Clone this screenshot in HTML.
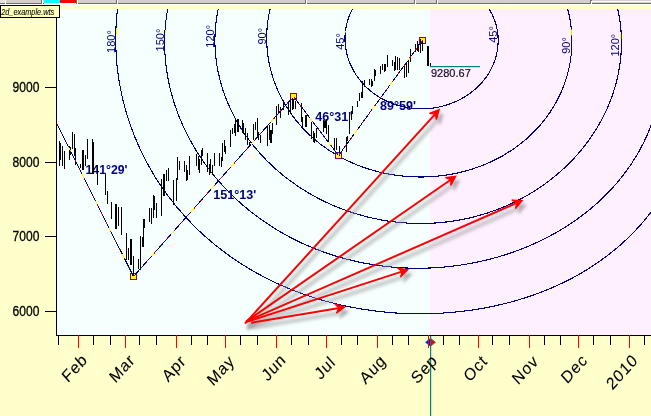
<!DOCTYPE html><html><head><meta charset="utf-8"><style>html,body{margin:0;padding:0;background:#FFFFCC;width:651px;height:416px;overflow:hidden}svg{display:block}</style></head><body><svg width="651" height="416" viewBox="0 0 651 416">
<defs><clipPath id="ch"><rect x="57" y="9" width="594" height="326"/></clipPath></defs>
<rect x="0" y="0" width="651" height="416" fill="#FFFFCC"/>
<rect x="57" y="9" width="373" height="326" fill="#F5FFFD"/>
<rect x="430" y="9" width="221" height="326" fill="#FFF0FF"/>
<rect x="0" y="0" width="651" height="3" fill="#D4D0C8"/>
<rect x="0" y="3" width="651" height="1" fill="#6E6E6E"/>
<rect x="0" y="4" width="651" height="1" fill="#FFFFFF"/>
<rect x="6" y="0" width="35" height="3" fill="#D4D0C8"/>
<rect x="41" y="0" width="1" height="4" fill="#6E6E6E"/>
<rect x="42" y="0" width="1" height="4" fill="#FFFFFF"/>
<rect x="44" y="0" width="16" height="3" fill="#00FFFF"/>
<rect x="60" y="0" width="1" height="4" fill="#6E6E6E"/>
<rect x="61" y="0" width="1" height="4" fill="#FFFFFF"/>
<rect x="60" y="0" width="16" height="3" fill="#FF0000"/>
<rect x="76" y="0" width="1" height="4" fill="#6E6E6E"/>
<rect x="77" y="0" width="1" height="4" fill="#FFFFFF"/>
<rect x="78" y="0" width="38" height="3" fill="#D4D0C8"/>
<rect x="116" y="0" width="1" height="4" fill="#6E6E6E"/>
<rect x="117" y="0" width="1" height="4" fill="#FFFFFF"/>
<rect x="118" y="0" width="187" height="3" fill="#D4D0C8"/>
<rect x="305" y="0" width="1" height="4" fill="#6E6E6E"/>
<rect x="306" y="0" width="1" height="4" fill="#FFFFFF"/>
<rect x="307" y="0" width="107" height="3" fill="#D4D0C8"/>
<rect x="414" y="0" width="1" height="4" fill="#6E6E6E"/>
<rect x="415" y="0" width="1" height="4" fill="#FFFFFF"/>
<rect x="416" y="0" width="20" height="3" fill="#D4D0C8"/>
<rect x="436" y="0" width="1" height="4" fill="#6E6E6E"/>
<rect x="437" y="0" width="1" height="4" fill="#FFFFFF"/>
<rect x="438" y="0" width="152" height="3" fill="#D4D0C8"/>
<rect x="590" y="0" width="1" height="4" fill="#6E6E6E"/>
<rect x="591" y="0" width="1" height="4" fill="#FFFFFF"/>
<rect x="0" y="0" width="5" height="3" fill="#E4E2DC"/>
<rect x="5" y="0" width="1" height="4" fill="#FFFFFF"/>
<rect x="44" y="3" width="32" height="1" fill="#FFFFFF"/>
<rect x="592" y="1" width="59" height="1" fill="#FFFFFF"/>
<rect x="591" y="0" width="1" height="1" fill="#6E6E6E"/>
<g clip-path="url(#ch)">
<path d="M345.0,41.0 345.0,40.0 345.0,39.0 345.0,38.0 345.0,37.0 345.0,36.0 345.1,35.0 345.2,34.0 345.2,33.0 345.3,32.0 345.4,31.1 345.6,30.1 345.7,29.1 345.9,28.1 346.0,27.1 346.2,26.1 346.4,25.2 346.7,24.2 346.9,23.2 347.2,22.2 347.4,21.3 347.7,20.3 348.0,19.4 348.3,18.4 348.7,17.5 349.0,16.6 349.4,15.6 349.7,14.7 350.1,13.8 350.5,12.9 351.0,12.0 351.4,11.1 351.9,10.2 352.3,9.3 352.8,8.5 353.3,7.6 353.8,6.8 354.3,5.9 354.9,5.1 355.4,4.3 356.0,3.4 356.5,2.6 357.1,1.8 357.7,1.1 358.3,0.3 358.9,-0.5 359.6,-1.2 360.2,-2.0 360.9,-2.7 361.5,-3.4 362.2,-4.1 362.9,-4.8 363.6,-5.5 364.3,-6.2 365.0,-6.8 365.7,-7.5 366.4,-8.1 367.2,-8.8 367.9,-9.4 368.7,-10.0 369.4,-10.6 370.2,-11.1 371.0,-11.7 371.8,-12.2 372.6,-12.8 373.4,-13.3 374.2,-13.8 375.0,-14.3 375.8,-14.8 376.6,-15.3 377.4,-15.8 378.3,-16.2 379.1,-16.7 380.0,-17.1 380.8,-17.5 381.6,-17.9 382.5,-18.3 383.3,-18.7 384.2,-19.0 385.1,-19.4 385.9,-19.7 386.8,-20.1 387.7,-20.4 388.5,-20.7 389.4,-21.0 390.3,-21.3 391.2,-21.6 392.0,-21.8 392.9,-22.1 393.8,-22.3 394.7,-22.6 395.5,-22.8 396.4,-23.0 397.3,-23.2 398.2,-23.4 399.1,-23.6 400.0,-23.8 400.8,-23.9 401.7,-24.1 402.6,-24.2 403.5,-24.4 404.4,-24.5 405.3,-24.6 406.1,-24.7 407.0,-24.8 407.9,-24.9 408.8,-25.0 409.6,-25.1 410.5,-25.1 411.4,-25.2 412.3,-25.2 413.2,-25.3 414.0,-25.3 414.9,-25.3 415.8,-25.4 416.7,-25.4 417.5,-25.4 418.4,-25.4 419.3,-25.4 420.1,-25.3 421.0,-25.3 421.9,-25.3 422.7,-25.2 423.6,-25.2 424.5,-25.1 425.3,-25.1 426.2,-25.0 427.1,-24.9 427.9,-24.9 428.8,-24.8 429.6,-24.7 430.5,-24.6 431.4,-24.5 432.2,-24.4 433.1,-24.2 434.0,-24.1 434.8,-24.0 435.7,-23.8 436.5,-23.7 437.4,-23.5 438.2,-23.3 439.1,-23.2 440.0,-23.0 440.8,-22.8 441.7,-22.6 442.5,-22.4 443.4,-22.2 444.2,-22.0 445.1,-21.7 445.9,-21.5 446.8,-21.3 447.6,-21.0 448.5,-20.8 449.3,-20.5 450.2,-20.2 451.0,-19.9 451.9,-19.6 452.7,-19.3 453.6,-19.0 454.4,-18.7 455.3,-18.3 456.1,-18.0 456.9,-17.7 457.8,-17.3 458.6,-16.9 459.4,-16.5 460.3,-16.1 461.1,-15.7 461.9,-15.3 462.7,-14.9 463.6,-14.5 464.4,-14.0 465.2,-13.6 466.0,-13.1 466.8,-12.6 467.6,-12.1 468.4,-11.6 469.2,-11.1 470.0,-10.6 470.7,-10.1 471.5,-9.5 472.3,-9.0 473.0,-8.4 473.8,-7.8 474.6,-7.2 475.3,-6.6 476.0,-6.0 476.8,-5.4 477.5,-4.7 478.2,-4.1 478.9,-3.4 479.6,-2.8 480.3,-2.1 481.0,-1.4 481.6,-0.7 482.3,0.0 482.9,0.8 483.6,1.5 484.2,2.3 484.8,3.0 485.4,3.8 486.0,4.6 486.6,5.4 487.2,6.2 487.8,7.0 488.3,7.8 488.8,8.6 489.4,9.5 489.9,10.3 490.4,11.2 490.9,12.1 491.3,12.9 491.8,13.8 492.2,14.7 492.6,15.6 493.1,16.5 493.5,17.5 493.8,18.4 494.2,19.3 494.6,20.3 494.9,21.2 495.2,22.2 495.5,23.1 495.8,24.1 496.1,25.0 496.3,26.0 496.6,27.0 496.8,28.0 497.0,29.0 497.2,30.0 497.4,30.9 497.5,31.9 497.6,32.9 497.8,33.9 497.9,34.9 498.0,36.0 498.0,37.0 498.1,38.0 498.1,39.0 498.1,40.0 498.1,41.0 498.1,42.0 498.1,43.0 498.0,44.0 498.0,45.0 497.9,46.0 497.8,47.0 497.7,48.0 497.5,49.0 497.4,50.0 497.2,51.0 497.0,52.0 496.8,53.0 496.6,54.0 496.4,55.0 496.1,55.9 495.9,56.9 495.6,57.9 495.3,58.8 495.0,59.8 494.7,60.7 494.3,61.7 494.0,62.6 493.6,63.5 493.2,64.5 492.8,65.4 492.4,66.3 492.0,67.2 491.6,68.1 491.1,69.0 490.7,69.9 490.2,70.7 489.7,71.6 489.2,72.4 488.7,73.3 488.2,74.1 487.6,74.9 487.1,75.8 486.5,76.6 486.0,77.4 485.4,78.2 484.8,78.9 484.2,79.7 483.6,80.5 483.0,81.2 482.3,82.0 481.7,82.7 481.0,83.4 480.4,84.1 479.7,84.8 479.0,85.5 478.4,86.2 477.7,86.9 477.0,87.5 476.3,88.2 475.6,88.8 474.8,89.5 474.1,90.1 473.4,90.7 472.6,91.3 471.9,91.9 471.1,92.5 470.4,93.0 469.6,93.6 468.8,94.1 468.1,94.7 467.3,95.2 466.5,95.7 465.7,96.2 464.9,96.7 464.1,97.2 463.3,97.7 462.5,98.1 461.7,98.6 460.9,99.0 460.1,99.5 459.2,99.9 458.4,100.3 457.6,100.7 456.8,101.1 455.9,101.5 455.1,101.8 454.2,102.2 453.4,102.6 452.5,102.9 451.7,103.2 450.8,103.6 450.0,103.9 449.1,104.2 448.3,104.5 447.4,104.8 446.5,105.0 445.7,105.3 444.8,105.6 443.9,105.8 443.1,106.0 442.2,106.3 441.3,106.5 440.5,106.7 439.6,106.9 438.7,107.1 437.8,107.2 436.9,107.4 436.1,107.6 435.2,107.7 434.3,107.9 433.4,108.0 432.5,108.1 431.6,108.2 430.8,108.3 429.9,108.4 429.0,108.5 428.1,108.6 427.2,108.7 426.3,108.7 425.4,108.8 424.6,108.8 423.7,108.8 422.8,108.8 421.9,108.9 421.0,108.9 420.1,108.8 419.2,108.8 418.3,108.8 417.4,108.8 416.6,108.7 415.7,108.7 414.8,108.6 413.9,108.5 413.0,108.4 412.1,108.3 411.3,108.2 410.4,108.1 409.5,108.0 408.6,107.9 407.7,107.7 406.8,107.6 406.0,107.4 405.1,107.2 404.2,107.1 403.3,106.9 402.5,106.7 401.6,106.5 400.7,106.2 399.9,106.0 399.0,105.8 398.1,105.5 397.3,105.3 396.4,105.0 395.6,104.7 394.7,104.4 393.9,104.1 393.0,103.8 392.2,103.5 391.3,103.2 390.5,102.8 389.7,102.5 388.8,102.1 388.0,101.8 387.2,101.4 386.4,101.0 385.5,100.6 384.7,100.2 383.9,99.8 383.1,99.4 382.3,98.9 381.5,98.5 380.7,98.0 379.9,97.6 379.1,97.1 378.3,96.6 377.6,96.1 376.8,95.6 376.0,95.1 375.3,94.5 374.5,94.0 373.8,93.5 373.0,92.9 372.3,92.3 371.6,91.8 370.8,91.2 370.1,90.6 369.4,90.0 368.7,89.4 368.0,88.7 367.3,88.1 366.6,87.4 365.9,86.8 365.3,86.1 364.6,85.5 364.0,84.8 363.3,84.1 362.7,83.4 362.0,82.7 361.4,82.0 360.8,81.2 360.2,80.5 359.6,79.7 359.0,79.0 358.4,78.2 357.9,77.4 357.3,76.7 356.8,75.9 356.2,75.1 355.7,74.3 355.2,73.5 354.7,72.6 354.2,71.8 353.7,71.0 353.2,70.1 352.8,69.3 352.3,68.4 351.9,67.5 351.5,66.7 351.1,65.8 350.6,64.9 350.3,64.0 349.9,63.1 349.5,62.2 349.2,61.3 348.8,60.3 348.5,59.4 348.2,58.5 347.9,57.5 347.6,56.6 347.3,55.7 347.1,54.7 346.8,53.7 346.6,52.8 346.4,51.8 346.2,50.8 346.0,49.9 345.9,48.9 345.7,47.9 345.6,46.9 345.4,46.0 345.3,45.0 345.2,44.0 345.2,43.0 345.1,42.0 345.0,41.0 Z" fill="none" stroke="#000080" stroke-width="1.1" shape-rendering="crispEdges"/>
<path d="M266.7,41.0 266.7,39.0 266.7,37.0 266.7,34.9 266.8,32.9 266.9,30.9 267.0,28.9 267.2,26.9 267.4,24.9 267.6,22.8 267.9,20.8 268.2,18.8 268.5,16.8 268.9,14.9 269.2,12.9 269.7,10.9 270.1,8.9 270.6,7.0 271.1,5.0 271.7,3.1 272.2,1.1 272.8,-0.8 273.5,-2.7 274.1,-4.6 274.8,-6.5 275.6,-8.4 276.3,-10.2 277.1,-12.1 277.9,-13.9 278.8,-15.7 279.6,-17.6 280.5,-19.4 281.4,-21.1 282.4,-22.9 283.4,-24.6 284.4,-26.4 285.4,-28.1 286.5,-29.8 287.5,-31.5 288.7,-33.1 289.8,-34.8 290.9,-36.4 292.1,-38.0 293.3,-39.6 294.5,-41.1 295.8,-42.7 297.0,-44.2 298.3,-45.7 299.6,-47.2 301.0,-48.6 302.3,-50.1 303.7,-51.5 305.1,-52.9 306.5,-54.3 307.9,-55.6 309.3,-56.9 310.8,-58.2 312.3,-59.5 313.7,-60.8 315.2,-62.0 316.8,-63.2 318.3,-64.4 319.9,-65.6 321.4,-66.7 323.0,-67.9 324.6,-68.9 326.2,-70.0 327.8,-71.1 329.4,-72.1 331.1,-73.1 332.7,-74.1 334.4,-75.0 336.0,-76.0 337.7,-76.9 339.4,-77.8 341.1,-78.6 342.8,-79.5 344.5,-80.3 346.2,-81.1 347.9,-81.9 349.6,-82.6 351.4,-83.3 353.1,-84.0 354.9,-84.7 356.6,-85.4 358.4,-86.0 360.1,-86.6 361.9,-87.2 363.7,-87.8 365.4,-88.3 367.2,-88.9 369.0,-89.4 370.8,-89.9 372.6,-90.3 374.3,-90.8 376.1,-91.2 377.9,-91.6 379.7,-92.0 381.5,-92.3 383.3,-92.7 385.1,-93.0 386.9,-93.3 388.7,-93.6 390.5,-93.9 392.3,-94.1 394.1,-94.3 395.9,-94.5 397.7,-94.7 399.5,-94.9 401.3,-95.0 403.1,-95.2 404.9,-95.3 406.7,-95.4 408.5,-95.5 410.3,-95.5 412.0,-95.6 413.8,-95.6 415.6,-95.6 417.4,-95.6 419.2,-95.6 421.0,-95.5 422.8,-95.4 424.6,-95.4 426.4,-95.3 428.1,-95.1 429.9,-95.0 431.7,-94.9 433.5,-94.7 435.2,-94.5 437.0,-94.3 438.8,-94.1 440.6,-93.9 442.3,-93.6 444.1,-93.3 445.8,-93.1 447.6,-92.7 449.4,-92.4 451.1,-92.1 452.9,-91.7 454.6,-91.4 456.4,-91.0 458.1,-90.6 459.8,-90.1 461.6,-89.7 463.3,-89.2 465.0,-88.7 466.8,-88.2 468.5,-87.7 470.2,-87.2 471.9,-86.6 473.6,-86.1 475.3,-85.5 477.0,-84.9 478.7,-84.2 480.4,-83.6 482.1,-82.9 483.8,-82.3 485.5,-81.6 487.1,-80.8 488.8,-80.1 490.5,-79.3 492.1,-78.6 493.8,-77.8 495.4,-76.9 497.0,-76.1 498.7,-75.2 500.3,-74.4 501.9,-73.5 503.5,-72.5 505.1,-71.6 506.7,-70.6 508.2,-69.7 509.8,-68.7 511.3,-67.6 512.9,-66.6 514.4,-65.5 515.9,-64.4 517.5,-63.3 518.9,-62.2 520.4,-61.1 521.9,-59.9 523.4,-58.7 524.8,-57.5 526.2,-56.3 527.7,-55.0 529.1,-53.8 530.4,-52.5 531.8,-51.2 533.2,-49.8 534.5,-48.5 535.8,-47.1 537.1,-45.7 538.4,-44.3 539.7,-42.9 541.0,-41.4 542.2,-40.0 543.4,-38.5 544.6,-37.0 545.8,-35.5 546.9,-33.9 548.0,-32.4 549.2,-30.8 550.2,-29.2 551.3,-27.6 552.4,-25.9 553.4,-24.3 554.4,-22.6 555.3,-20.9 556.3,-19.2 557.2,-17.5 558.1,-15.8 559.0,-14.0 559.8,-12.3 560.6,-10.5 561.4,-8.7 562.2,-6.9 562.9,-5.1 563.7,-3.3 564.3,-1.5 565.0,0.4 565.6,2.2 566.2,4.1 566.8,6.0 567.3,7.9 567.8,9.8 568.3,11.7 568.8,13.6 569.2,15.5 569.6,17.5 570.0,19.4 570.3,21.3 570.6,23.3 570.9,25.2 571.1,27.2 571.3,29.2 571.5,31.1 571.6,33.1 571.7,35.1 571.8,37.1 571.9,39.0 571.9,41.0 571.9,43.0 571.8,44.9 571.8,46.9 571.7,48.9 571.5,50.9 571.4,52.8 571.2,54.8 570.9,56.8 570.7,58.7 570.4,60.7 570.1,62.6 569.7,64.6 569.3,66.5 568.9,68.4 568.5,70.3 568.0,72.2 567.5,74.1 567.0,76.0 566.4,77.9 565.8,79.8 565.2,81.7 564.5,83.5 563.9,85.4 563.2,87.2 562.4,89.0 561.7,90.8 560.9,92.6 560.1,94.4 559.2,96.1 558.4,97.9 557.5,99.6 556.6,101.4 555.6,103.1 554.7,104.8 553.7,106.4 552.7,108.1 551.6,109.7 550.6,111.4 549.5,113.0 548.4,114.5 547.3,116.1 546.1,117.7 545.0,119.2 543.8,120.7 542.6,122.2 541.3,123.7 540.1,125.2 538.8,126.6 537.5,128.0 536.2,129.4 534.9,130.8 533.6,132.2 532.2,133.5 530.9,134.8 529.5,136.1 528.1,137.4 526.7,138.7 525.2,139.9 523.8,141.1 522.3,142.3 520.8,143.5 519.4,144.7 517.9,145.8 516.4,146.9 514.8,148.0 513.3,149.1 511.7,150.1 510.2,151.1 508.6,152.1 507.0,153.1 505.5,154.1 503.9,155.0 502.3,156.0 500.6,156.9 499.0,157.8 497.4,158.6 495.7,159.5 494.1,160.3 492.4,161.1 490.8,161.9 489.1,162.6 487.4,163.3 485.7,164.1 484.1,164.8 482.4,165.4 480.7,166.1 479.0,166.7 477.3,167.3 475.5,167.9 473.8,168.5 472.1,169.1 470.4,169.6 468.6,170.1 466.9,170.6 465.2,171.1 463.4,171.6 461.7,172.0 459.9,172.4 458.2,172.8 456.4,173.2 454.7,173.6 452.9,173.9 451.1,174.2 449.4,174.5 447.6,174.8 445.9,175.1 444.1,175.4 442.3,175.6 440.5,175.8 438.8,176.0 437.0,176.2 435.2,176.3 433.4,176.5 431.7,176.6 429.9,176.7 428.1,176.8 426.3,176.9 424.6,176.9 422.8,177.0 421.0,177.0 419.2,177.0 417.4,176.9 415.7,176.9 413.9,176.8 412.1,176.8 410.3,176.7 408.5,176.6 406.8,176.4 405.0,176.3 403.2,176.1 401.4,175.9 399.7,175.7 397.9,175.5 396.1,175.3 394.3,175.0 392.6,174.7 390.8,174.4 389.0,174.1 387.3,173.8 385.5,173.4 383.8,173.1 382.0,172.7 380.2,172.3 378.5,171.8 376.7,171.4 375.0,170.9 373.2,170.4 371.5,169.9 369.8,169.4 368.0,168.9 366.3,168.3 364.6,167.7 362.9,167.1 361.1,166.5 359.4,165.8 357.7,165.2 356.0,164.5 354.3,163.8 352.6,163.1 351.0,162.3 349.3,161.5 347.6,160.8 345.9,159.9 344.3,159.1 342.6,158.3 341.0,157.4 339.4,156.5 337.7,155.6 336.1,154.7 334.5,153.7 332.9,152.7 331.3,151.7 329.7,150.7 328.2,149.7 326.6,148.6 325.1,147.5 323.5,146.4 322.0,145.3 320.5,144.2 319.0,143.0 317.5,141.8 316.0,140.6 314.6,139.4 313.1,138.1 311.7,136.8 310.3,135.6 308.9,134.2 307.5,132.9 306.1,131.6 304.8,130.2 303.4,128.8 302.1,127.4 300.8,125.9 299.5,124.5 298.3,123.0 297.0,121.5 295.8,120.0 294.6,118.5 293.4,116.9 292.2,115.3 291.1,113.7 290.0,112.1 288.9,110.5 287.8,108.9 286.7,107.2 285.7,105.5 284.7,103.8 283.7,102.1 282.8,100.4 281.8,98.7 280.9,96.9 280.0,95.1 279.2,93.3 278.3,91.5 277.5,89.7 276.7,87.9 276.0,86.0 275.2,84.2 274.5,82.3 273.9,80.4 273.2,78.5 272.6,76.6 272.0,74.7 271.5,72.8 270.9,70.8 270.4,68.9 270.0,66.9 269.5,65.0 269.1,63.0 268.8,61.0 268.4,59.1 268.1,57.1 267.8,55.1 267.6,53.1 267.3,51.1 267.2,49.1 267.0,47.1 266.9,45.0 266.8,43.0 266.7,41.0 Z" fill="none" stroke="#000080" stroke-width="1.1" shape-rendering="crispEdges"/>
<path d="M214.9,41.0 214.9,38.3 215.0,35.6 215.1,32.9 215.3,30.2 215.5,27.5 215.7,24.8 216.0,22.2 216.4,19.5 216.8,16.8 217.2,14.2 217.7,11.5 218.3,8.9 218.9,6.3 219.5,3.7 220.2,1.1 220.9,-1.5 221.7,-4.1 222.5,-6.7 223.4,-9.2 224.3,-11.7 225.3,-14.2 226.3,-16.7 227.3,-19.1 228.4,-21.6 229.6,-24.0 230.7,-26.4 232.0,-28.7 233.2,-31.1 234.5,-33.4 235.9,-35.7 237.3,-37.9 238.7,-40.2 240.1,-42.4 241.6,-44.6 243.2,-46.7 244.7,-48.8 246.3,-50.9 248.0,-52.9 249.7,-55.0 251.4,-56.9 253.1,-58.9 254.9,-60.8 256.7,-62.7 258.5,-64.5 260.3,-66.4 262.2,-68.1 264.1,-69.9 266.0,-71.6 268.0,-73.3 270.0,-74.9 272.0,-76.5 274.0,-78.1 276.0,-79.6 278.1,-81.1 280.1,-82.5 282.2,-84.0 284.3,-85.3 286.5,-86.7 288.6,-88.0 290.7,-89.3 292.9,-90.5 295.1,-91.7 297.3,-92.9 299.4,-94.0 301.6,-95.1 303.9,-96.2 306.1,-97.2 308.3,-98.2 310.5,-99.1 312.8,-100.1 315.0,-101.0 317.2,-101.8 319.5,-102.7 321.7,-103.5 324.0,-104.2 326.2,-105.0 328.5,-105.7 330.7,-106.4 332.9,-107.0 335.2,-107.6 337.4,-108.2 339.7,-108.8 341.9,-109.3 344.1,-109.9 346.4,-110.4 348.6,-110.8 350.8,-111.3 353.0,-111.7 355.2,-112.1 357.4,-112.5 359.6,-112.9 361.8,-113.2 364.0,-113.5 366.2,-113.8 368.4,-114.1 370.5,-114.4 372.7,-114.6 374.8,-114.8 377.0,-115.1 379.1,-115.3 381.3,-115.4 383.4,-115.6 385.5,-115.8 387.6,-115.9 389.8,-116.0 391.9,-116.2 394.0,-116.3 396.1,-116.3 398.2,-116.4 400.3,-116.5 402.4,-116.6 404.4,-116.6 406.5,-116.6 408.6,-116.7 410.7,-116.7 412.7,-116.7 414.8,-116.7 416.9,-116.7 418.9,-116.6 421.0,-116.6 423.1,-116.6 425.1,-116.5 427.2,-116.5 429.2,-116.4 431.3,-116.3 433.4,-116.2 435.4,-116.1 437.5,-116.0 439.6,-115.9 441.6,-115.8 443.7,-115.6 445.8,-115.5 447.9,-115.3 449.9,-115.1 452.0,-114.9 454.1,-114.7 456.2,-114.5 458.3,-114.3 460.4,-114.1 462.5,-113.8 464.6,-113.5 466.7,-113.3 468.8,-113.0 470.9,-112.6 473.0,-112.3 475.2,-112.0 477.3,-111.6 479.4,-111.2 481.6,-110.8 483.7,-110.4 485.9,-110.0 488.0,-109.5 490.2,-109.0 492.3,-108.5 494.5,-108.0 496.6,-107.4 498.8,-106.9 501.0,-106.3 503.1,-105.7 505.3,-105.0 507.5,-104.4 509.6,-103.7 511.8,-102.9 514.0,-102.2 516.2,-101.4 518.3,-100.6 520.5,-99.8 522.7,-98.9 524.8,-98.0 527.0,-97.1 529.1,-96.1 531.3,-95.2 533.4,-94.1 535.5,-93.1 537.7,-92.0 539.8,-90.9 541.9,-89.8 544.0,-88.6 546.1,-87.4 548.1,-86.1 550.2,-84.9 552.2,-83.5 554.3,-82.2 556.3,-80.8 558.3,-79.4 560.3,-78.0 562.3,-76.5 564.2,-75.0 566.1,-73.4 568.1,-71.8 570.0,-70.2 571.8,-68.6 573.7,-66.9 575.5,-65.2 577.3,-63.4 579.1,-61.6 580.8,-59.8 582.5,-58.0 584.2,-56.1 585.9,-54.2 587.5,-52.3 589.1,-50.3 590.7,-48.3 592.2,-46.2 593.7,-44.2 595.2,-42.1 596.6,-40.0 598.0,-37.8 599.4,-35.7 600.7,-33.5 602.0,-31.2 603.3,-29.0 604.5,-26.7 605.7,-24.4 606.8,-22.1 607.9,-19.7 609.0,-17.4 610.0,-15.0 611.0,-12.6 611.9,-10.2 612.8,-7.7 613.7,-5.3 614.5,-2.8 615.2,-0.3 616.0,2.2 616.6,4.7 617.3,7.3 617.9,9.8 618.4,12.4 618.9,14.9 619.4,17.5 619.8,20.1 620.1,22.7 620.5,25.3 620.7,27.9 621.0,30.5 621.1,33.1 621.3,35.8 621.4,38.4 621.4,41.0 621.4,43.6 621.4,46.2 621.3,48.9 621.2,51.5 621.0,54.1 620.8,56.7 620.5,59.3 620.2,61.9 619.9,64.5 619.5,67.1 619.0,69.7 618.6,72.3 618.0,74.9 617.5,77.4 616.9,80.0 616.3,82.5 615.6,85.0 614.9,87.5 614.1,90.0 613.3,92.5 612.5,95.0 611.6,97.5 610.7,99.9 609.7,102.3 608.8,104.7 607.7,107.1 606.7,109.5 605.6,111.9 604.5,114.2 603.3,116.5 602.1,118.8 600.9,121.1 599.6,123.4 598.4,125.6 597.0,127.8 595.7,130.0 594.3,132.2 592.9,134.3 591.5,136.5 590.0,138.6 588.5,140.7 587.0,142.7 585.5,144.8 583.9,146.8 582.3,148.8 580.7,150.7 579.0,152.7 577.4,154.6 575.7,156.5 573.9,158.4 572.2,160.2 570.4,162.0 568.7,163.8 566.9,165.6 565.0,167.3 563.2,169.0 561.3,170.7 559.4,172.4 557.5,174.0 555.6,175.6 553.7,177.2 551.7,178.8 549.8,180.3 547.8,181.8 545.8,183.3 543.8,184.7 541.7,186.2 539.7,187.6 537.6,188.9 535.5,190.3 533.5,191.6 531.4,192.9 529.2,194.2 527.1,195.4 525.0,196.6 522.8,197.8 520.7,198.9 518.5,200.1 516.3,201.2 514.1,202.3 511.9,203.3 509.7,204.3 507.5,205.3 505.2,206.3 503.0,207.2 500.7,208.1 498.5,209.0 496.2,209.9 493.9,210.7 491.6,211.5 489.4,212.3 487.1,213.1 484.8,213.8 482.4,214.5 480.1,215.2 477.8,215.8 475.5,216.5 473.1,217.1 470.8,217.6 468.5,218.2 466.1,218.7 463.8,219.2 461.4,219.6 459.1,220.1 456.7,220.5 454.3,220.9 452.0,221.2 449.6,221.5 447.2,221.9 444.8,222.1 442.5,222.4 440.1,222.6 437.7,222.8 435.3,223.0 432.9,223.1 430.6,223.2 428.2,223.3 425.8,223.4 423.4,223.4 421.0,223.5 418.6,223.5 416.2,223.4 413.8,223.4 411.4,223.3 409.1,223.2 406.7,223.0 404.3,222.8 401.9,222.7 399.5,222.4 397.1,222.2 394.8,221.9 392.4,221.6 390.0,221.3 387.6,221.0 385.3,220.6 382.9,220.2 380.5,219.8 378.2,219.3 375.8,218.8 373.5,218.3 371.1,217.8 368.8,217.3 366.4,216.7 364.1,216.1 361.8,215.4 359.5,214.8 357.1,214.1 354.8,213.4 352.5,212.7 350.2,211.9 347.9,211.1 345.6,210.3 343.3,209.5 341.1,208.6 338.8,207.7 336.5,206.8 334.3,205.9 332.0,204.9 329.8,203.9 327.5,202.9 325.3,201.8 323.1,200.8 320.9,199.7 318.7,198.5 316.5,197.4 314.3,196.2 312.2,195.0 310.0,193.8 307.9,192.5 305.7,191.2 303.6,189.9 301.5,188.6 299.4,187.2 297.3,185.8 295.3,184.4 293.2,182.9 291.2,181.5 289.1,180.0 287.1,178.4 285.1,176.9 283.1,175.3 281.2,173.7 279.2,172.1 277.3,170.4 275.4,168.7 273.5,167.0 271.6,165.2 269.8,163.5 267.9,161.7 266.1,159.9 264.3,158.0 262.5,156.1 260.8,154.2 259.1,152.3 257.4,150.3 255.7,148.4 254.0,146.4 252.4,144.3 250.8,142.3 249.2,140.2 247.7,138.1 246.1,135.9 244.6,133.8 243.2,131.6 241.7,129.4 240.3,127.2 239.0,124.9 237.6,122.6 236.3,120.3 235.0,118.0 233.8,115.7 232.6,113.3 231.4,110.9 230.3,108.5 229.2,106.1 228.1,103.7 227.1,101.2 226.1,98.7 225.1,96.2 224.2,93.7 223.3,91.2 222.5,88.7 221.7,86.1 221.0,83.5 220.2,80.9 219.6,78.3 219.0,75.7 218.4,73.1 217.8,70.5 217.3,67.8 216.9,65.2 216.5,62.5 216.1,59.8 215.8,57.1 215.5,54.5 215.3,51.8 215.2,49.1 215.0,46.4 214.9,43.7 214.9,41.0 Z" fill="none" stroke="#000080" stroke-width="1.1" shape-rendering="crispEdges"/>
<path d="M164.6,41.0 164.7,37.6 164.8,34.3 165.0,30.9 165.2,27.6 165.5,24.3 165.9,20.9 166.3,17.6 166.8,14.3 167.3,11.0 167.9,7.7 168.5,4.4 169.3,1.1 170.0,-2.1 170.9,-5.4 171.8,-8.6 172.7,-11.8 173.7,-15.0 174.8,-18.1 175.9,-21.2 177.1,-24.3 178.4,-27.4 179.7,-30.5 181.0,-33.5 182.4,-36.5 183.9,-39.5 185.4,-42.4 187.0,-45.3 188.7,-48.2 190.3,-51.0 192.1,-53.8 193.9,-56.6 195.7,-59.3 197.6,-62.0 199.5,-64.6 201.5,-67.2 203.6,-69.8 205.6,-72.3 207.8,-74.8 209.9,-77.2 212.1,-79.6 214.4,-81.9 216.7,-84.2 219.0,-86.4 221.4,-88.6 223.8,-90.8 226.2,-92.9 228.7,-94.9 231.2,-96.9 233.7,-98.8 236.3,-100.7 238.9,-102.6 241.5,-104.3 244.2,-106.1 246.9,-107.7 249.6,-109.4 252.3,-110.9 255.0,-112.4 257.8,-113.9 260.6,-115.3 263.3,-116.7 266.2,-118.0 269.0,-119.2 271.8,-120.4 274.7,-121.5 277.5,-122.6 280.4,-123.7 283.2,-124.6 286.1,-125.6 289.0,-126.4 291.9,-127.3 294.8,-128.1 297.6,-128.8 300.5,-129.5 303.4,-130.1 306.3,-130.7 309.2,-131.2 312.0,-131.7 314.9,-132.2 317.7,-132.6 320.6,-132.9 323.4,-133.3 326.2,-133.5 329.1,-133.8 331.9,-134.0 334.6,-134.1 337.4,-134.2 340.2,-134.3 342.9,-134.4 345.6,-134.4 348.4,-134.4 351.0,-134.3 353.7,-134.3 356.4,-134.1 359.0,-134.0 361.6,-133.8 364.3,-133.7 366.8,-133.4 369.4,-133.2 371.9,-132.9 374.5,-132.7 377.0,-132.4 379.5,-132.0 381.9,-131.7 384.4,-131.3 386.8,-131.0 389.2,-130.6 391.6,-130.2 394.0,-129.8 396.3,-129.4 398.6,-128.9 400.9,-128.5 403.2,-128.0 405.5,-127.6 407.8,-127.1 410.0,-126.6 412.2,-126.2 414.5,-125.7 416.6,-125.2 418.8,-124.7 421.0,-124.2 423.2,-123.7 425.3,-123.3 427.4,-122.8 429.6,-122.3 431.7,-121.8 433.8,-121.3 435.9,-120.8 438.0,-120.3 440.0,-119.8 442.1,-119.4 444.2,-118.9 446.2,-118.4 448.3,-117.9 450.4,-117.5 452.4,-117.0 454.5,-116.5 456.5,-116.1 458.6,-115.6 460.7,-115.2 462.7,-114.7 464.8,-114.2 466.9,-113.8 468.9,-113.3 471.0,-112.9 473.1,-112.4 475.2,-112.0 477.3,-111.5 479.4,-111.1 481.5,-110.6 483.6,-110.1 485.7,-109.7 487.9,-109.2 490.0,-108.7 492.2,-108.2 494.3,-107.7 496.5,-107.2 498.7,-106.7 500.9,-106.2 503.1,-105.7 505.4,-105.1 507.6,-104.6 509.8,-104.0 512.1,-103.4 514.4,-102.8 516.7,-102.2 519.0,-101.5 521.3,-100.9 523.6,-100.2 525.9,-99.5 528.2,-98.8 530.6,-98.0 533.0,-97.3 535.3,-96.5 537.7,-95.6 540.1,-94.8 542.5,-93.9 544.9,-93.0 547.3,-92.1 549.7,-91.1 552.1,-90.1 554.5,-89.1 556.9,-88.0 559.3,-86.9 561.8,-85.7 564.2,-84.6 566.6,-83.4 569.0,-82.1 571.4,-80.8 573.8,-79.5 576.2,-78.1 578.6,-76.7 581.0,-75.3 583.4,-73.8 585.7,-72.2 588.1,-70.7 590.4,-69.0 592.8,-67.4 595.1,-65.7 597.4,-63.9 599.6,-62.1 601.9,-60.3 604.1,-58.4 606.3,-56.5 608.5,-54.5 610.6,-52.5 612.8,-50.5 614.9,-48.4 616.9,-46.2 619.0,-44.1 621.0,-41.8 623.0,-39.6 624.9,-37.3 626.8,-34.9 628.6,-32.5 630.5,-30.1 632.3,-27.6 634.0,-25.1 635.7,-22.6 637.3,-20.0 638.9,-17.4 640.5,-14.7 642.0,-12.1 643.5,-9.3 644.9,-6.6 646.3,-3.8 647.6,-1.0 648.8,1.9 650.0,4.7 651.2,7.6 652.3,10.6 653.3,13.5 654.3,16.5 655.2,19.5 656.1,22.5 656.9,25.5 657.7,28.6 658.4,31.7 659.0,34.8 659.6,37.9 660.1,41.0 660.5,44.1 660.9,47.3 661.3,50.4 661.5,53.6 661.7,56.8 661.9,60.0 661.9,63.1 662.0,66.3 661.9,69.5 661.8,72.7 661.7,75.9 661.4,79.1 661.1,82.3 660.8,85.4 660.4,88.6 659.9,91.8 659.4,94.9 658.8,98.1 658.1,101.2 657.4,104.4 656.7,107.5 655.8,110.6 655.0,113.6 654.0,116.7 653.0,119.8 652.0,122.8 650.9,125.8 649.7,128.8 648.5,131.8 647.3,134.7 646.0,137.6 644.6,140.6 643.2,143.4 641.7,146.3 640.2,149.1 638.7,151.9 637.1,154.7 635.4,157.4 633.7,160.1 632.0,162.8 630.2,165.5 628.4,168.1 626.5,170.7 624.6,173.2 622.7,175.8 620.7,178.3 618.7,180.7 616.7,183.2 614.6,185.5 612.5,187.9 610.3,190.2 608.1,192.5 605.9,194.8 603.7,197.0 601.4,199.2 599.1,201.3 596.7,203.5 594.4,205.5 592.0,207.6 589.6,209.6 587.2,211.6 584.7,213.5 582.2,215.4 579.7,217.3 577.2,219.1 574.6,220.9 572.1,222.7 569.5,224.4 566.9,226.1 564.3,227.7 561.6,229.3 559.0,230.9 556.3,232.5 553.6,234.0 550.9,235.4 548.2,236.9 545.5,238.3 542.7,239.7 540.0,241.0 537.2,242.3 534.4,243.6 531.7,244.8 528.9,246.0 526.1,247.2 523.2,248.3 520.4,249.4 517.6,250.5 514.7,251.5 511.9,252.5 509.0,253.5 506.2,254.5 503.3,255.4 500.4,256.2 497.5,257.1 494.6,257.9 491.7,258.7 488.8,259.4 485.9,260.1 483.0,260.8 480.1,261.5 477.2,262.1 474.2,262.7 471.3,263.3 468.4,263.8 465.4,264.3 462.5,264.8 459.5,265.2 456.6,265.6 453.6,266.0 450.7,266.4 447.7,266.7 444.8,267.0 441.8,267.2 438.8,267.5 435.9,267.7 432.9,267.8 429.9,268.0 426.9,268.1 424.0,268.1 421.0,268.2 418.0,268.2 415.1,268.2 412.1,268.1 409.1,268.1 406.1,268.0 403.1,267.8 400.2,267.6 397.2,267.4 394.2,267.2 391.3,267.0 388.3,266.7 385.3,266.3 382.3,266.0 379.4,265.6 376.4,265.2 373.4,264.7 370.5,264.2 367.5,263.7 364.6,263.2 361.6,262.6 358.7,262.0 355.7,261.3 352.8,260.6 349.9,259.9 346.9,259.2 344.0,258.4 341.1,257.6 338.2,256.7 335.3,255.9 332.4,254.9 329.5,254.0 326.6,253.0 323.7,252.0 320.9,251.0 318.0,249.9 315.1,248.8 312.3,247.6 309.5,246.4 306.6,245.2 303.8,243.9 301.0,242.7 298.2,241.3 295.5,240.0 292.7,238.6 289.9,237.1 287.2,235.7 284.5,234.2 281.8,232.6 279.1,231.1 276.4,229.5 273.7,227.8 271.1,226.1 268.4,224.4 265.8,222.7 263.2,220.9 260.6,219.1 258.1,217.2 255.5,215.3 253.0,213.4 250.5,211.5 248.1,209.5 245.6,207.4 243.2,205.4 240.8,203.3 238.4,201.2 236.0,199.0 233.7,196.8 231.4,194.6 229.1,192.3 226.8,190.0 224.6,187.6 222.4,185.3 220.3,182.9 218.1,180.4 216.0,178.0 213.9,175.5 211.9,172.9 209.9,170.4 207.9,167.8 206.0,165.2 204.1,162.5 202.2,159.8 200.4,157.1 198.6,154.3 196.8,151.6 195.1,148.8 193.4,145.9 191.8,143.1 190.2,140.2 188.6,137.3 187.1,134.3 185.6,131.4 184.2,128.4 182.8,125.3 181.5,122.3 180.2,119.2 178.9,116.2 177.7,113.1 176.6,109.9 175.5,106.8 174.4,103.6 173.4,100.4 172.5,97.2 171.6,94.0 170.7,90.8 169.9,87.5 169.2,84.3 168.5,81.0 167.9,77.7 167.3,74.4 166.8,71.1 166.3,67.8 165.9,64.4 165.6,61.1 165.3,57.8 165.0,54.4 164.8,51.1 164.7,47.7 164.7,44.4 164.6,41.0 Z" fill="none" stroke="#000080" stroke-width="1.1" shape-rendering="crispEdges"/>
<path d="M115.7,41.0 115.7,37.0 115.8,33.0 115.9,29.0 116.1,25.0 116.4,21.0 116.7,17.0 117.1,13.1 117.5,9.1 118.0,5.1 118.6,1.2 119.2,-2.8 119.9,-6.7 120.7,-10.6 121.5,-14.5 122.4,-18.4 123.3,-22.3 124.3,-26.1 125.4,-30.0 126.6,-33.8 127.7,-37.6 129.0,-41.4 130.3,-45.1 131.7,-48.8 133.1,-52.5 134.6,-56.2 136.2,-59.9 137.8,-63.5 139.5,-67.1 141.2,-70.6 143.0,-74.2 144.8,-77.6 146.8,-81.1 148.7,-84.5 150.7,-87.9 152.8,-91.3 154.9,-94.6 157.1,-97.8 159.3,-101.1 161.6,-104.3 163.9,-107.4 166.3,-110.5 168.8,-113.6 171.2,-116.6 173.8,-119.5 176.4,-122.5 179.0,-125.3 181.7,-128.2 184.4,-130.9 187.1,-133.6 189.9,-136.3 192.8,-138.9 195.6,-141.5 198.6,-144.0 201.5,-146.4 204.5,-148.8 207.6,-151.2 210.6,-153.5 213.7,-155.7 216.9,-157.9 220.0,-160.0 223.2,-162.0 226.5,-164.0 229.7,-165.9 233.0,-167.8 236.3,-169.6 239.6,-171.4 243.0,-173.1 246.3,-174.7 249.7,-176.3 253.1,-177.8 256.6,-179.2 260.0,-180.6 263.5,-181.9 267.0,-183.1 270.4,-184.3 273.9,-185.5 277.4,-186.5 281.0,-187.5 284.5,-188.5 288.0,-189.4 291.5,-190.2 295.1,-190.9 298.6,-191.6 302.1,-192.3 305.7,-192.9 309.2,-193.4 312.7,-193.9 316.3,-194.3 319.8,-194.6 323.3,-194.9 326.8,-195.1 330.3,-195.3 333.8,-195.4 337.3,-195.5 340.7,-195.5 344.2,-195.5 347.6,-195.4 351.0,-195.3 354.4,-195.1 357.8,-194.8 361.2,-194.6 364.5,-194.2 367.9,-193.8 371.2,-193.4 374.5,-193.0 377.7,-192.5 381.0,-191.9 384.2,-191.3 387.4,-190.7 390.6,-190.0 393.7,-189.3 396.9,-188.6 400.0,-187.8 403.1,-187.0 406.1,-186.2 409.1,-185.3 412.1,-184.4 415.1,-183.5 418.1,-182.6 421.0,-181.6 423.9,-180.6 426.8,-179.6 429.6,-178.5 432.4,-177.4 435.2,-176.3 438.0,-175.2 440.8,-174.1 443.5,-173.0 446.2,-171.8 448.9,-170.6 451.5,-169.4 454.1,-168.2 456.7,-167.0 459.3,-165.8 461.9,-164.6 464.4,-163.3 467.0,-162.1 469.5,-160.8 471.9,-159.5 474.4,-158.3 476.8,-157.0 479.3,-155.7 481.7,-154.4 484.1,-153.1 486.4,-151.8 488.8,-150.5 491.2,-149.2 493.5,-147.9 495.8,-146.6 498.2,-145.3 500.5,-143.9 502.8,-142.6 505.0,-141.3 507.3,-140.0 509.6,-138.7 511.9,-137.3 514.1,-136.0 516.4,-134.7 518.6,-133.3 520.9,-132.0 523.1,-130.7 525.4,-129.3 527.6,-128.0 529.9,-126.6 532.1,-125.3 534.3,-123.9 536.6,-122.5 538.8,-121.2 541.1,-119.8 543.3,-118.4 545.6,-117.0 547.8,-115.6 550.1,-114.2 552.3,-112.8 554.6,-111.4 556.9,-109.9 559.2,-108.5 561.4,-107.0 563.7,-105.5 566.0,-104.0 568.3,-102.5 570.6,-101.0 572.9,-99.4 575.2,-97.8 577.5,-96.2 579.8,-94.6 582.1,-93.0 584.4,-91.3 586.8,-89.7 589.1,-88.0 591.4,-86.2 593.7,-84.5 596.0,-82.7 598.4,-80.9 600.7,-79.1 603.0,-77.2 605.3,-75.3 607.6,-73.4 609.9,-71.4 612.2,-69.4 614.5,-67.4 616.8,-65.3 619.1,-63.2 621.3,-61.1 623.6,-58.9 625.8,-56.7 628.0,-54.4 630.3,-52.2 632.5,-49.8 634.6,-47.5 636.8,-45.1 638.9,-42.7 641.0,-40.2 643.1,-37.7 645.2,-35.1 647.2,-32.5 649.2,-29.9 651.2,-27.2 653.2,-24.5 655.1,-21.7 657.0,-18.9 658.9,-16.1 660.7,-13.2 662.4,-10.3 664.2,-7.4 665.9,-4.4 667.5,-1.4 669.2,1.7 670.7,4.8 672.2,7.9 673.7,11.1 675.1,14.3 676.5,17.5 677.8,20.8 679.1,24.1 680.3,27.4 681.5,30.8 682.6,34.2 683.6,37.6 684.6,41.0 685.5,44.5 686.4,47.9 687.2,51.5 687.9,55.0 688.6,58.5 689.2,62.1 689.8,65.7 690.2,69.3 690.7,72.9 691.0,76.5 691.3,80.2 691.5,83.8 691.6,87.5 691.7,91.2 691.7,94.8 691.6,98.5 691.5,102.2 691.3,105.9 691.0,109.6 690.6,113.2 690.2,116.9 689.7,120.6 689.1,124.2 688.5,127.9 687.7,131.5 687.0,135.2 686.1,138.8 685.2,142.4 684.2,146.0 683.1,149.6 682.0,153.1 680.8,156.7 679.5,160.2 678.2,163.7 676.8,167.1 675.3,170.6 673.8,174.0 672.2,177.4 670.5,180.7 668.8,184.1 667.0,187.4 665.2,190.6 663.3,193.9 661.3,197.1 659.3,200.2 657.2,203.3 655.1,206.4 652.9,209.5 650.6,212.5 648.3,215.5 646.0,218.4 643.6,221.3 641.2,224.1 638.7,226.9 636.1,229.7 633.5,232.4 630.9,235.1 628.3,237.7 625.5,240.3 622.8,242.8 620.0,245.3 617.2,247.7 614.3,250.1 611.4,252.5 608.5,254.8 605.5,257.0 602.5,259.2 599.5,261.4 596.4,263.5 593.3,265.6 590.2,267.6 587.1,269.6 583.9,271.5 580.7,273.4 577.5,275.2 574.2,277.0 571.0,278.7 567.7,280.4 564.4,282.0 561.1,283.6 557.8,285.2 554.4,286.7 551.0,288.2 547.7,289.6 544.3,290.9 540.9,292.3 537.4,293.6 534.0,294.8 530.6,296.0 527.1,297.2 523.6,298.3 520.2,299.3 516.7,300.4 513.2,301.4 509.7,302.3 506.2,303.2 502.7,304.1 499.2,304.9 495.7,305.7 492.1,306.5 488.6,307.2 485.1,307.9 481.5,308.5 478.0,309.1 474.4,309.7 470.9,310.2 467.3,310.7 463.8,311.1 460.2,311.5 456.7,311.9 453.1,312.3 449.5,312.6 446.0,312.8 442.4,313.1 438.8,313.3 435.3,313.4 431.7,313.6 428.1,313.7 424.6,313.7 421.0,313.7 417.4,313.7 413.9,313.7 410.3,313.6 406.7,313.5 403.1,313.4 399.6,313.2 396.0,313.0 392.4,312.7 388.9,312.4 385.3,312.1 381.7,311.7 378.2,311.3 374.6,310.9 371.1,310.4 367.5,309.9 364.0,309.4 360.4,308.8 356.9,308.2 353.3,307.5 349.8,306.9 346.2,306.1 342.7,305.4 339.2,304.6 335.6,303.7 332.1,302.8 328.6,301.9 325.1,301.0 321.6,300.0 318.1,298.9 314.6,297.8 311.1,296.7 307.7,295.6 304.2,294.4 300.7,293.1 297.3,291.8 293.9,290.5 290.4,289.2 287.0,287.7 283.6,286.3 280.2,284.8 276.9,283.3 273.5,281.7 270.2,280.1 266.8,278.4 263.5,276.7 260.2,274.9 256.9,273.1 253.7,271.3 250.4,269.4 247.2,267.5 244.0,265.5 240.8,263.5 237.7,261.4 234.5,259.3 231.4,257.2 228.3,255.0 225.3,252.7 222.2,250.5 219.2,248.1 216.2,245.8 213.3,243.4 210.3,240.9 207.4,238.4 204.6,235.9 201.7,233.3 198.9,230.7 196.2,228.0 193.4,225.3 190.7,222.5 188.1,219.7 185.4,216.9 182.9,214.0 180.3,211.1 177.8,208.2 175.3,205.2 172.9,202.1 170.5,199.1 168.1,196.0 165.8,192.8 163.6,189.6 161.3,186.4 159.2,183.2 157.0,179.9 154.9,176.6 152.9,173.2 150.9,169.8 149.0,166.4 147.1,163.0 145.2,159.5 143.5,156.0 141.7,152.4 140.0,148.9 138.4,145.3 136.8,141.6 135.3,138.0 133.8,134.3 132.4,130.6 131.0,126.9 129.7,123.2 128.4,119.4 127.2,115.6 126.1,111.8 125.0,108.0 124.0,104.1 123.0,100.3 122.1,96.4 121.3,92.5 120.5,88.6 119.7,84.7 119.1,80.8 118.4,76.8 117.9,72.9 117.4,68.9 117.0,64.9 116.6,61.0 116.3,57.0 116.1,53.0 115.9,49.0 115.8,45.0 115.7,41.0 Z" fill="none" stroke="#000080" stroke-width="1.1" shape-rendering="crispEdges"/>
<rect x="116.0" y="28" width="1.2" height="7.0" fill="#FFFF00"/>
<rect x="165.0" y="30" width="1.2" height="3.0" fill="#FFFF00"/>
<rect x="344.7" y="31" width="1.2" height="1.5" fill="#FFFF00"/>
<rect x="570.7" y="29.5" width="1.2" height="5.9" fill="#FFFF00"/>
<rect x="620.0" y="33.7" width="1.2" height="5.1" fill="#FFFF00"/>
<rect x="130.5" y="273.5" width="6" height="6" fill="#FFFF00" stroke="#800080" stroke-width="1"/>
<rect x="290.5" y="93.5" width="6" height="6" fill="#FFFF00" stroke="#800080" stroke-width="1"/>
<rect x="335.5" y="152.5" width="6" height="6" fill="#FFFF00" stroke="#800080" stroke-width="1"/>
<rect x="419.5" y="37.5" width="6" height="6" fill="#FFFF00" stroke="#800080" stroke-width="1"/>
<text x="85.5" y="174" textLength="42" lengthAdjust="spacingAndGlyphs" font-family="Liberation Sans, Arial, sans-serif" font-size="12.3" font-weight="bold" fill="#000080">141°29'</text>
<text x="213.3" y="199.2" textLength="43" lengthAdjust="spacingAndGlyphs" font-family="Liberation Sans, Arial, sans-serif" font-size="12.3" font-weight="bold" fill="#000080">151°13'</text>
<text x="315.2" y="120.8" textLength="36" lengthAdjust="spacingAndGlyphs" font-family="Liberation Sans, Arial, sans-serif" font-size="12.3" font-weight="bold" fill="#000080">46°31'</text>
<text x="380.1" y="109.9" textLength="36" lengthAdjust="spacingAndGlyphs" font-family="Liberation Sans, Arial, sans-serif" font-size="12.3" font-weight="bold" fill="#000080">89°59'</text>
<text x="0" y="0" text-anchor="middle" transform="translate(111.3 41.5) rotate(-90) translate(0 3.8)" font-family="Liberation Sans, Arial, sans-serif" font-size="11" fill="#000080">180°</text>
<text x="0" y="0" text-anchor="middle" transform="translate(160.4 40) rotate(-90) translate(0 3.8)" font-family="Liberation Sans, Arial, sans-serif" font-size="11" fill="#000080">150°</text>
<text x="0" y="0" text-anchor="middle" transform="translate(210.3 36.3) rotate(-90) translate(0 3.8)" font-family="Liberation Sans, Arial, sans-serif" font-size="11" fill="#000080">120°</text>
<text x="0" y="0" text-anchor="middle" transform="translate(261.8 36.2) rotate(-90) translate(0 3.8)" font-family="Liberation Sans, Arial, sans-serif" font-size="11" fill="#000080">90°</text>
<text x="0" y="0" text-anchor="middle" transform="translate(339.7 41.5) rotate(-90) translate(0 3.8)" font-family="Liberation Sans, Arial, sans-serif" font-size="11" fill="#000080">45°</text>
<text x="0" y="0" text-anchor="middle" transform="translate(493 34.5) rotate(-90) translate(0 3.8)" font-family="Liberation Sans, Arial, sans-serif" font-size="11" fill="#000080">45°</text>
<text x="0" y="0" text-anchor="middle" transform="translate(566.3 45.5) rotate(-90) translate(0 3.8)" font-family="Liberation Sans, Arial, sans-serif" font-size="11" fill="#000080">90°</text>
<text x="0" y="0" text-anchor="middle" transform="translate(615.5 45.2) rotate(-90) translate(0 3.8)" font-family="Liberation Sans, Arial, sans-serif" font-size="11" fill="#000080">120°</text>
<rect x="430" y="66" width="50" height="1.2" fill="#008080"/>
<text x="431" y="77" font-family="Liberation Sans, Arial, sans-serif" font-size="11" fill="#101028" stroke="#101028" stroke-width="0.2">9280.67</text>
<g fill="#000">
<rect x="59" y="141" width="1" height="25"/>
<rect x="60" y="143" width="1" height="17"/>
<rect x="62" y="146" width="1" height="20"/>
<rect x="64" y="151" width="1" height="18"/>
<rect x="69" y="146" width="1" height="14"/>
<rect x="70" y="147" width="1" height="8"/>
<rect x="72" y="132" width="1" height="17"/>
<rect x="74" y="134" width="1" height="22"/>
<rect x="75" y="148" width="1" height="17"/>
<rect x="80" y="164" width="1" height="4"/>
<rect x="82" y="150" width="2" height="20"/>
<rect x="85" y="155" width="1" height="11"/>
<rect x="87" y="139" width="1" height="20"/>
<rect x="92" y="139" width="1" height="35"/>
<rect x="93" y="142" width="1" height="32"/>
<rect x="97" y="165" width="1" height="20"/>
<rect x="105" y="174" width="1" height="21"/>
<rect x="107" y="191" width="1" height="13"/>
<rect x="111" y="202" width="1" height="17"/>
<rect x="115" y="204" width="2" height="25"/>
<rect x="118" y="207" width="1" height="19"/>
<rect x="121" y="207" width="1" height="17"/>
<rect x="121" y="223" width="1" height="12"/>
<rect x="126" y="233" width="1" height="27"/>
<rect x="128" y="248" width="1" height="12"/>
<rect x="130" y="239" width="2" height="26"/>
<rect x="133" y="256" width="1" height="20"/>
<rect x="138" y="259" width="1" height="10"/>
<rect x="140" y="236" width="1" height="34"/>
<rect x="142" y="237" width="1" height="10"/>
<rect x="143" y="219" width="1" height="28"/>
<rect x="144" y="219" width="1" height="9"/>
<rect x="149" y="208" width="1" height="14"/>
<rect x="151" y="208" width="1" height="16"/>
<rect x="153" y="195" width="1" height="23"/>
<rect x="154" y="196" width="1" height="14"/>
<rect x="156" y="203" width="1" height="15"/>
<rect x="161" y="179" width="1" height="37"/>
<rect x="163" y="174" width="2" height="22"/>
<rect x="166" y="170" width="1" height="11"/>
<rect x="168" y="168" width="1" height="13"/>
<rect x="173" y="180" width="1" height="25"/>
<rect x="176" y="178" width="1" height="23"/>
<rect x="177" y="157" width="1" height="23"/>
<rect x="179" y="161" width="1" height="9"/>
<rect x="184" y="161" width="1" height="11"/>
<rect x="186" y="165" width="1" height="16"/>
<rect x="187" y="170" width="1" height="10"/>
<rect x="189" y="156" width="1" height="19"/>
<rect x="196" y="154" width="1" height="12"/>
<rect x="198" y="156" width="1" height="14"/>
<rect x="199" y="159" width="1" height="14"/>
<rect x="201" y="150" width="1" height="15"/>
<rect x="202" y="148" width="1" height="8"/>
<rect x="207" y="153" width="1" height="19"/>
<rect x="209" y="164" width="1" height="11"/>
<rect x="210" y="159" width="1" height="14"/>
<rect x="212" y="165" width="1" height="10"/>
<rect x="214" y="153" width="1" height="13"/>
<rect x="219" y="153" width="1" height="13"/>
<rect x="221" y="157" width="1" height="10"/>
<rect x="222" y="143" width="1" height="18"/>
<rect x="224" y="140" width="1" height="12"/>
<rect x="225" y="146" width="1" height="8"/>
<rect x="230" y="130" width="1" height="17"/>
<rect x="232" y="128" width="1" height="6"/>
<rect x="234" y="124" width="1" height="9"/>
<rect x="235" y="119" width="1" height="17"/>
<rect x="237" y="119" width="2" height="13"/>
<rect x="242" y="120" width="1" height="13"/>
<rect x="243" y="123" width="1" height="11"/>
<rect x="245" y="128" width="1" height="12"/>
<rect x="247" y="133" width="1" height="12"/>
<rect x="249" y="142" width="1" height="3"/>
<rect x="253" y="124" width="1" height="16"/>
<rect x="255" y="122" width="1" height="8"/>
<rect x="257" y="118" width="1" height="18"/>
<rect x="258" y="132" width="1" height="8"/>
<rect x="260" y="135" width="1" height="8"/>
<rect x="267" y="125" width="1" height="21"/>
<rect x="269" y="125" width="1" height="15"/>
<rect x="270" y="130" width="2" height="13"/>
<rect x="272" y="123" width="1" height="11"/>
<rect x="276" y="106" width="1" height="19"/>
<rect x="278" y="104" width="1" height="9"/>
<rect x="280" y="107" width="1" height="11"/>
<rect x="283" y="100" width="1" height="10"/>
<rect x="288" y="101" width="1" height="14"/>
<rect x="290" y="100" width="1" height="13"/>
<rect x="292" y="98" width="1" height="12"/>
<rect x="293" y="99" width="1" height="10"/>
<rect x="295" y="101" width="1" height="8"/>
<rect x="301" y="103" width="1" height="19"/>
<rect x="302" y="117" width="1" height="10"/>
<rect x="305" y="115" width="2" height="12"/>
<rect x="311" y="122" width="1" height="17"/>
<rect x="311" y="122" width="1" height="14"/>
<rect x="313" y="131" width="1" height="11"/>
<rect x="314" y="133" width="1" height="10"/>
<rect x="316" y="128" width="1" height="10"/>
<rect x="323" y="120" width="1" height="12"/>
<rect x="324" y="121" width="2" height="7"/>
<rect x="326" y="119" width="1" height="15"/>
<rect x="328" y="125" width="1" height="18"/>
<rect x="334" y="138" width="1" height="13"/>
<rect x="336" y="138" width="1" height="12"/>
<rect x="339" y="146" width="1" height="10"/>
<rect x="346" y="137" width="1" height="15"/>
<rect x="347" y="136" width="1" height="5"/>
<rect x="349" y="115" width="1" height="19"/>
<rect x="351" y="111" width="1" height="9"/>
<rect x="352" y="106" width="1" height="8"/>
<rect x="357" y="101" width="1" height="6"/>
<rect x="359" y="93" width="1" height="8"/>
<rect x="361" y="92" width="1" height="6"/>
<rect x="362" y="81" width="1" height="17"/>
<rect x="364" y="80" width="1" height="7"/>
<rect x="369" y="79" width="1" height="6"/>
<rect x="371" y="79" width="1" height="8"/>
<rect x="372" y="81" width="1" height="5"/>
<rect x="374" y="69" width="1" height="12"/>
<rect x="375" y="70" width="1" height="6"/>
<rect x="380" y="66" width="1" height="8"/>
<rect x="382" y="64" width="1" height="6"/>
<rect x="384" y="64" width="1" height="8"/>
<rect x="385" y="64" width="1" height="7"/>
<rect x="387" y="55" width="1" height="12"/>
<rect x="392" y="60" width="1" height="6"/>
<rect x="394" y="62" width="1" height="9"/>
<rect x="395" y="56" width="1" height="14"/>
<rect x="397" y="57" width="1" height="13"/>
<rect x="399" y="58" width="1" height="12"/>
<rect x="404" y="65" width="1" height="13"/>
<rect x="406" y="62" width="1" height="15"/>
<rect x="408" y="60" width="1" height="13"/>
<rect x="410" y="49" width="1" height="13"/>
<rect x="415" y="44" width="1" height="8"/>
<rect x="417" y="41" width="1" height="10"/>
<rect x="418" y="44" width="1" height="8"/>
<rect x="420" y="39" width="1" height="14"/>
<rect x="421" y="41" width="1" height="3"/>
<rect x="422" y="41" width="1" height="10"/>
<rect x="427" y="46" width="2" height="20"/>
<rect x="430" y="63" width="1" height="3"/>
</g>
<line x1="56.5" y1="123.0" x2="133.5" y2="276.5" stroke="#000080" stroke-width="1" shape-rendering="crispEdges"/>
<line x1="56.5" y1="123.0" x2="133.5" y2="276.5" stroke="#FFFF00" stroke-width="1" stroke-dasharray="5 25" stroke-dashoffset="3" shape-rendering="crispEdges"/>
<line x1="56.5" y1="123.0" x2="133.5" y2="276.5" stroke="#E00000" stroke-width="1" stroke-dasharray="1.5 8.5" stroke-dashoffset="-1" shape-rendering="crispEdges"/>
<line x1="133.5" y1="276.5" x2="293.5" y2="96.5" stroke="#000080" stroke-width="1" shape-rendering="crispEdges"/>
<line x1="133.5" y1="276.5" x2="293.5" y2="96.5" stroke="#FFFF00" stroke-width="1" stroke-dasharray="5 25" stroke-dashoffset="3" shape-rendering="crispEdges"/>
<line x1="133.5" y1="276.5" x2="293.5" y2="96.5" stroke="#E00000" stroke-width="1" stroke-dasharray="1.5 8.5" stroke-dashoffset="-1" shape-rendering="crispEdges"/>
<line x1="293.5" y1="96.5" x2="338.5" y2="155.5" stroke="#000080" stroke-width="1" shape-rendering="crispEdges"/>
<line x1="293.5" y1="96.5" x2="338.5" y2="155.5" stroke="#FFFF00" stroke-width="1" stroke-dasharray="5 25" stroke-dashoffset="3" shape-rendering="crispEdges"/>
<line x1="293.5" y1="96.5" x2="338.5" y2="155.5" stroke="#E00000" stroke-width="1" stroke-dasharray="1.5 8.5" stroke-dashoffset="-1" shape-rendering="crispEdges"/>
<line x1="338.5" y1="155.5" x2="422.5" y2="40.5" stroke="#000080" stroke-width="1" shape-rendering="crispEdges"/>
<line x1="338.5" y1="155.5" x2="422.5" y2="40.5" stroke="#FFFF00" stroke-width="1" stroke-dasharray="5 25" stroke-dashoffset="3" shape-rendering="crispEdges"/>
<line x1="338.5" y1="155.5" x2="422.5" y2="40.5" stroke="#E00000" stroke-width="1" stroke-dasharray="1.5 8.5" stroke-dashoffset="-1" shape-rendering="crispEdges"/>
<defs><filter id="sh" x="-20%" y="-20%" width="140%" height="140%"><feGaussianBlur stdDeviation="1.8"/></filter></defs>
<g transform="translate(3.5 4.5)" filter="url(#sh)" opacity="0.5"><path d="M245,323.5 L436.5,112.6" stroke="#A0A0A0" stroke-width="4.5" fill="none" stroke-linecap="round"/><path d="M439.2,109.6 L436.4,119.7 L435.2,114.0 L429.4,113.3 Z" fill="#707070" stroke="#707070" stroke-width="1.5" stroke-linejoin="round"/></g>
<g transform="translate(3.5 4.5)" filter="url(#sh)" opacity="0.5"><path d="M246,321.6 L452.5,178.5" stroke="#A0A0A0" stroke-width="4.5" fill="none" stroke-linecap="round"/><path d="M455.8,176.2 L450.8,185.4 L450.9,179.6 L445.4,177.6 Z" fill="#707070" stroke="#707070" stroke-width="1.5" stroke-linejoin="round"/></g>
<g transform="translate(3.5 4.5)" filter="url(#sh)" opacity="0.5"><path d="M246.5,321.3 L518.5,202.2" stroke="#A0A0A0" stroke-width="4.5" fill="none" stroke-linecap="round"/><path d="M522.2,200.6 L515.5,208.7 L516.7,203.0 L511.7,200.0 Z" fill="#707070" stroke="#707070" stroke-width="1.5" stroke-linejoin="round"/></g>
<g transform="translate(3.5 4.5)" filter="url(#sh)" opacity="0.5"><path d="M247,321.8 L404.1,270.9" stroke="#A0A0A0" stroke-width="4.5" fill="none" stroke-linecap="round"/><path d="M407.9,269.7 L400.5,277.1 L402.2,271.5 L397.5,268.0 Z" fill="#707070" stroke="#707070" stroke-width="1.5" stroke-linejoin="round"/></g>
<g transform="translate(3.5 4.5)" filter="url(#sh)" opacity="0.5"><path d="M251,322.8 L340.9,307.8" stroke="#A0A0A0" stroke-width="4.5" fill="none" stroke-linecap="round"/><path d="M344.8,307.1 L336.4,313.3 L338.9,308.1 L334.8,303.9 Z" fill="#707070" stroke="#707070" stroke-width="1.5" stroke-linejoin="round"/></g>
<path d="M245,323.5 L436.5,112.6" fill="none" stroke="#FF0000" stroke-width="2" stroke-linecap="butt"/>
<path d="M439.2,109.6 L436.4,119.7 L435.2,114.0 L429.4,113.3 Z" fill="#FF0000" stroke="#FF0000" stroke-width="1.2" stroke-linejoin="miter"/>
<path d="M246,321.6 L452.5,178.5" fill="none" stroke="#FF0000" stroke-width="2" stroke-linecap="butt"/>
<path d="M455.8,176.2 L450.8,185.4 L450.9,179.6 L445.4,177.6 Z" fill="#FF0000" stroke="#FF0000" stroke-width="1.2" stroke-linejoin="miter"/>
<path d="M246.5,321.3 L518.5,202.2" fill="none" stroke="#FF0000" stroke-width="2" stroke-linecap="butt"/>
<path d="M522.2,200.6 L515.5,208.7 L516.7,203.0 L511.7,200.0 Z" fill="#FF0000" stroke="#FF0000" stroke-width="1.2" stroke-linejoin="miter"/>
<path d="M247,321.8 L404.1,270.9" fill="none" stroke="#FF0000" stroke-width="2" stroke-linecap="butt"/>
<path d="M407.9,269.7 L400.5,277.1 L402.2,271.5 L397.5,268.0 Z" fill="#FF0000" stroke="#FF0000" stroke-width="1.2" stroke-linejoin="miter"/>
<path d="M251,322.8 L340.9,307.8" fill="none" stroke="#FF0000" stroke-width="2" stroke-linecap="butt"/>
<path d="M344.8,307.1 L336.4,313.3 L338.9,308.1 L334.8,303.9 Z" fill="#FF0000" stroke="#FF0000" stroke-width="1.2" stroke-linejoin="miter"/>
</g>
<rect x="430" y="336" width="1.2" height="80" fill="#008080"/>
<path d="M425.5,342.3 L430.5,338.3 L430.5,346.3 Z" fill="#0000FF" stroke="#008080" stroke-width="0.8"/>
<path d="M435.5,342.3 L430.5,338.3 L430.5,346.3 Z" fill="#FF0000" stroke="#008080" stroke-width="0.8"/>
<rect x="56" y="9" width="1" height="327" fill="#000"/>
<rect x="56" y="335" width="595" height="1" fill="#000"/>
<rect x="45" y="87" width="11" height="1" fill="#000"/>
<text x="12.6" y="92.1" textLength="26.8" lengthAdjust="spacingAndGlyphs" font-family="Liberation Sans, Arial, sans-serif" font-size="14" fill="#000" stroke="#000" stroke-width="0.3">9000</text>
<rect x="45" y="162" width="11" height="1" fill="#000"/>
<text x="12.6" y="167.1" textLength="26.8" lengthAdjust="spacingAndGlyphs" font-family="Liberation Sans, Arial, sans-serif" font-size="14" fill="#000" stroke="#000" stroke-width="0.3">8000</text>
<rect x="45" y="236" width="11" height="1" fill="#000"/>
<text x="12.6" y="241.1" textLength="26.8" lengthAdjust="spacingAndGlyphs" font-family="Liberation Sans, Arial, sans-serif" font-size="14" fill="#000" stroke="#000" stroke-width="0.3">7000</text>
<rect x="45" y="311" width="11" height="1" fill="#000"/>
<text x="12.6" y="316.1" textLength="26.8" lengthAdjust="spacingAndGlyphs" font-family="Liberation Sans, Arial, sans-serif" font-size="14" fill="#000" stroke="#000" stroke-width="0.3">6000</text>
<rect x="58" y="336" width="1" height="9" fill="#000"/>
<rect x="93" y="336" width="1" height="9" fill="#000"/>
<rect x="110" y="336" width="1" height="9" fill="#000"/>
<rect x="139" y="336" width="1" height="9" fill="#000"/>
<rect x="156" y="336" width="1" height="9" fill="#000"/>
<rect x="191" y="336" width="1" height="9" fill="#000"/>
<rect x="207" y="336" width="1" height="9" fill="#000"/>
<rect x="240" y="336" width="1" height="9" fill="#000"/>
<rect x="257" y="336" width="1" height="9" fill="#000"/>
<rect x="291" y="336" width="1" height="9" fill="#000"/>
<rect x="308" y="336" width="1" height="9" fill="#000"/>
<rect x="341" y="336" width="1" height="9" fill="#000"/>
<rect x="357" y="336" width="1" height="9" fill="#000"/>
<rect x="392" y="336" width="1" height="9" fill="#000"/>
<rect x="408" y="336" width="1" height="9" fill="#000"/>
<rect x="443" y="336" width="1" height="9" fill="#000"/>
<rect x="459" y="336" width="1" height="9" fill="#000"/>
<rect x="492" y="336" width="1" height="9" fill="#000"/>
<rect x="509" y="336" width="1" height="9" fill="#000"/>
<rect x="544" y="336" width="1" height="9" fill="#000"/>
<rect x="560" y="336" width="1" height="9" fill="#000"/>
<rect x="593" y="336" width="1" height="9" fill="#000"/>
<rect x="610" y="336" width="1" height="9" fill="#000"/>
<rect x="644" y="336" width="1" height="9" fill="#000"/>
<rect x="78" y="335" width="1" height="13" fill="#FF0000"/>
<rect x="125" y="335" width="1" height="13" fill="#FF0000"/>
<rect x="176" y="335" width="1" height="13" fill="#FF0000"/>
<rect x="225" y="335" width="1" height="13" fill="#FF0000"/>
<rect x="276" y="335" width="1" height="13" fill="#FF0000"/>
<rect x="326" y="335" width="1" height="13" fill="#FF0000"/>
<rect x="377" y="335" width="1" height="13" fill="#FF0000"/>
<rect x="428" y="335" width="1" height="13" fill="#FF0000"/>
<rect x="478" y="335" width="1" height="13" fill="#FF0000"/>
<rect x="529" y="335" width="1" height="13" fill="#FF0000"/>
<rect x="578" y="335" width="1" height="13" fill="#FF0000"/>
<rect x="629" y="335" width="1" height="13" fill="#FF0000"/>
<text x="0" y="0" text-anchor="end" transform="translate(88.5 360.5) scale(0.9 1) rotate(-45)" font-family="Liberation Sans, Arial, sans-serif" font-size="17" letter-spacing="1" fill="#000" stroke="#000" stroke-width="0.1">Feb</text>
<text x="0" y="0" text-anchor="end" transform="translate(136.0 361.0) scale(0.9 1) rotate(-45)" font-family="Liberation Sans, Arial, sans-serif" font-size="17" letter-spacing="1" fill="#000" stroke="#000" stroke-width="0.1">Mar</text>
<text x="0" y="0" text-anchor="end" transform="translate(187.0 362.0) scale(0.9 1) rotate(-45)" font-family="Liberation Sans, Arial, sans-serif" font-size="17" letter-spacing="1" fill="#000" stroke="#000" stroke-width="0.1">Apr</text>
<text x="0" y="0" text-anchor="end" transform="translate(235.5 362.0) scale(0.9 1) rotate(-45)" font-family="Liberation Sans, Arial, sans-serif" font-size="17" letter-spacing="1" fill="#000" stroke="#000" stroke-width="0.1">May</text>
<text x="0" y="0" text-anchor="end" transform="translate(287.0 360.5) scale(0.9 1) rotate(-45)" font-family="Liberation Sans, Arial, sans-serif" font-size="17" letter-spacing="1" fill="#000" stroke="#000" stroke-width="0.1">Jun</text>
<text x="0" y="0" text-anchor="end" transform="translate(336.5 363.0) scale(0.9 1) rotate(-45)" font-family="Liberation Sans, Arial, sans-serif" font-size="17" letter-spacing="1" fill="#000" stroke="#000" stroke-width="0.1">Jul</text>
<text x="0" y="0" text-anchor="end" transform="translate(387.0 361.5) scale(0.9 1) rotate(-45)" font-family="Liberation Sans, Arial, sans-serif" font-size="17" letter-spacing="1" fill="#000" stroke="#000" stroke-width="0.1">Aug</text>
<text x="0" y="0" text-anchor="end" transform="translate(438.5 361.3) scale(0.9 1) rotate(-45)" font-family="Liberation Sans, Arial, sans-serif" font-size="17" letter-spacing="1" fill="#000" stroke="#000" stroke-width="0.1">Sep</text>
<text x="0" y="0" text-anchor="end" transform="translate(488.5 362.0) scale(0.9 1) rotate(-45)" font-family="Liberation Sans, Arial, sans-serif" font-size="17" letter-spacing="1" fill="#000" stroke="#000" stroke-width="0.1">Oct</text>
<text x="0" y="0" text-anchor="end" transform="translate(539.5 362.0) scale(0.9 1) rotate(-45)" font-family="Liberation Sans, Arial, sans-serif" font-size="17" letter-spacing="1" fill="#000" stroke="#000" stroke-width="0.1">Nov</text>
<text x="0" y="0" text-anchor="end" transform="translate(588.5 361.0) scale(0.9 1) rotate(-45)" font-family="Liberation Sans, Arial, sans-serif" font-size="17" letter-spacing="1" fill="#000" stroke="#000" stroke-width="0.1">Dec</text>
<text x="0" y="0" text-anchor="end" transform="translate(639.0 361.0) scale(0.9 1) rotate(-45)" font-family="Liberation Sans, Arial, sans-serif" font-size="17" letter-spacing="1" fill="#000" stroke="#000" stroke-width="0.1">2010</text>
<rect x="0.5" y="5.5" width="59" height="12" fill="#FFFFC0" stroke="#000" stroke-width="1"/>
<text x="1.2" y="14.5" textLength="53" lengthAdjust="spacingAndGlyphs" font-family="Liberation Sans, Arial, sans-serif" font-size="8.4" font-style="italic" fill="#000" stroke="#000" stroke-width="0.08">2d_example.wts</text>
</svg></body></html>
